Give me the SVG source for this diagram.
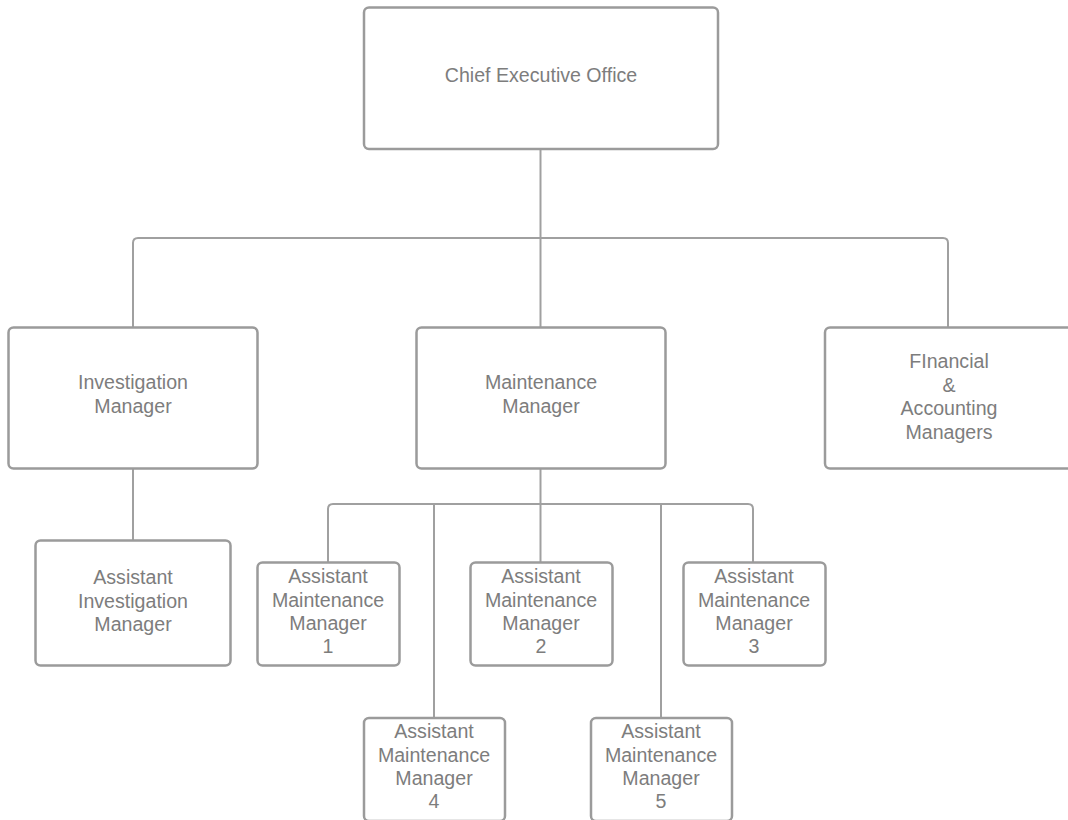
<svg xmlns="http://www.w3.org/2000/svg" width="1068" height="820" viewBox="0 0 1068 820">
<style>
.box{fill:#ffffff;stroke:#9b9b9b;stroke-width:2.5}
.con{fill:none;stroke:#a0a0a0;stroke-width:2}
text{font-family:"Liberation Sans",Arial,sans-serif;font-size:19.6px;fill:#7d7d7d;text-anchor:middle}
</style>
<rect width="1068" height="820" fill="#ffffff"/>
<g id="connectors">
<path class="con" d="M540.5 149 V327"/>
<path class="con" d="M133 327 V243 Q133 238 138 238 H943 Q948 238 948 243 V327"/>
<path class="con" d="M133 469 V540"/>
<path class="con" d="M540.5 469 V562"/>
<path class="con" d="M328 562 V509 Q328 504 333 504 H748 Q753 504 753 509 V562"/>
<path class="con" d="M434 504 V718"/>
<path class="con" d="M661 504 V718"/>
</g>
<g id="ceo">
<rect class="box" x="364" y="7.5" width="354" height="141.5" rx="5"/>
<text x="541" y="82">Chief Executive Office</text>
</g>
<g id="investigation-manager">
<rect class="box" x="8.5" y="327.5" width="249" height="141" rx="5"/>
<text x="133" y="389">Investigation</text>
<text x="133" y="413">Manager</text>
</g>
<g id="maintenance-manager">
<rect class="box" x="416.5" y="327.5" width="249" height="141" rx="5"/>
<text x="541" y="389">Maintenance</text>
<text x="541" y="413">Manager</text>
</g>
<g id="financial-managers">
<rect class="box" x="825" y="327.5" width="249" height="141" rx="5"/>
<text x="949" y="368">FInancial</text>
<text x="949" y="391.5">&amp;</text>
<text x="949" y="415">Accounting</text>
<text x="949" y="438.5">Managers</text>
</g>
<g id="assistant-investigation-manager">
<rect class="box" x="35.5" y="540.5" width="195" height="125" rx="5"/>
<text x="133" y="584">Assistant</text>
<text x="133" y="607.5">Investigation</text>
<text x="133" y="631">Manager</text>
</g>
<g id="assistant-maintenance-1">
<rect class="box" x="257.5" y="562.5" width="142" height="103" rx="5"/>
<text x="328" y="583.3">Assistant</text>
<text x="328" y="606.7">Maintenance</text>
<text x="328" y="630">Manager</text>
<text x="328" y="653.3">1</text>
</g>
<g id="assistant-maintenance-2">
<rect class="box" x="470.5" y="562.5" width="142" height="103" rx="5"/>
<text x="541" y="583.3">Assistant</text>
<text x="541" y="606.7">Maintenance</text>
<text x="541" y="630">Manager</text>
<text x="541" y="653.3">2</text>
</g>
<g id="assistant-maintenance-3">
<rect class="box" x="683.5" y="562.5" width="142" height="103" rx="5"/>
<text x="754" y="583.3">Assistant</text>
<text x="754" y="606.7">Maintenance</text>
<text x="754" y="630">Manager</text>
<text x="754" y="653.3">3</text>
</g>
<g id="assistant-maintenance-4">
<rect class="box" x="364" y="718" width="141" height="103" rx="5"/>
<text x="434" y="738.3">Assistant</text>
<text x="434" y="761.7">Maintenance</text>
<text x="434" y="785">Manager</text>
<text x="434" y="808.3">4</text>
</g>
<g id="assistant-maintenance-5">
<rect class="box" x="591" y="718" width="141" height="103" rx="5"/>
<text x="661" y="738.3">Assistant</text>
<text x="661" y="761.7">Maintenance</text>
<text x="661" y="785">Manager</text>
<text x="661" y="808.3">5</text>
</g>
</svg>
